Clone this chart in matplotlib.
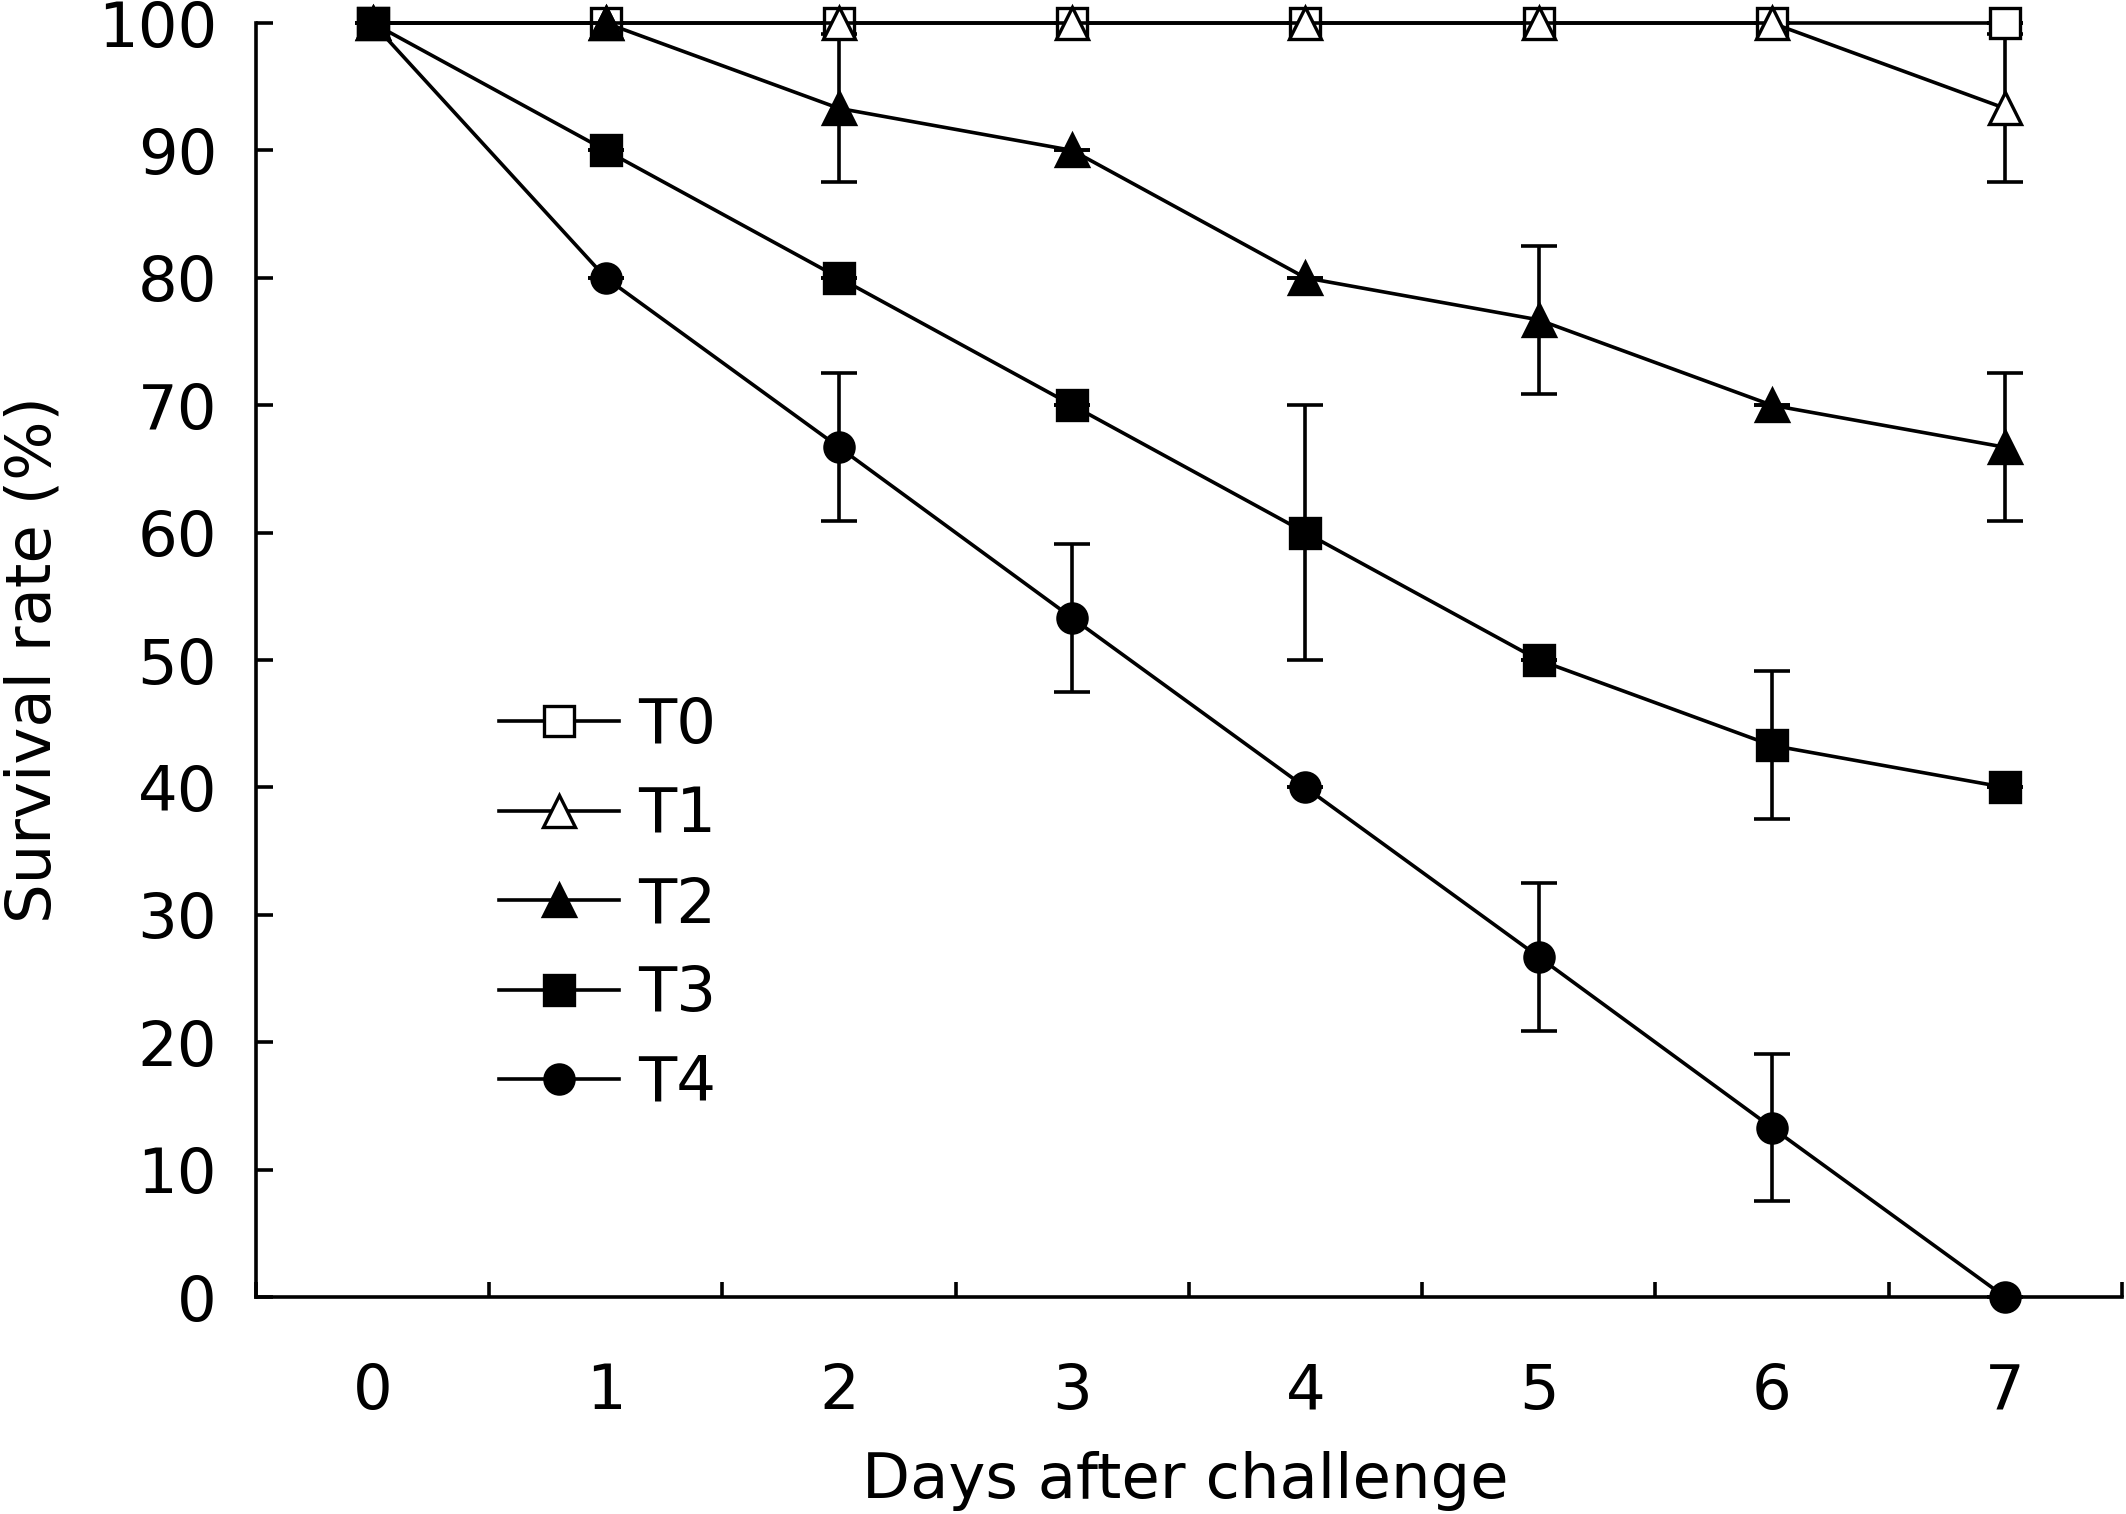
import matplotlib
matplotlib.use('Agg')
import matplotlib.pyplot as plt

# survival data
days = [0, 1, 2, 3, 4, 5, 6, 7]
groups = ['T0', 'T1', 'T2', 'T3', 'T4']

t0 = [100, 100, 100, 100, 100, 100, 100, 100]
t1 = [100, 100, 100, 100, 100, 100, 100, 93.3]
t2 = [100, 100, 93.3, 90, 80, 76.7, 70, 66.7]
t3 = [100, 90, 80, 70, 60, 50, 43.3, 40]
t4 = [100, 80, 66.7, 53.3, 40, 26.7, 13.3, 0]

t0_err = [0, 0, 0, 0, 0, 0, 0, 0]
t1_err = [0, 0, 0, 0, 0, 0, 0, 5.8]
t2_err = [0, 0, 5.8, 0, 0, 5.8, 0, 5.8]
t3_err = [0, 0, 0, 0, 10, 0, 5.8, 0]
t4_err = [0, 0, 5.8, 5.8, 0, 5.8, 5.8, 0]

values = [t0, t1, t2, t3, t4]
errors = [t0_err, t1_err, t2_err, t3_err, t4_err]
markers = ['s', '^', '^', 's', 'o']
faces = ['white', 'white', 'black', 'black', 'black']
sizes = [21, 23, 23, 21, 21]

plt.rcParams['font.family'] = ['DejaVu Sans']
plt.rcParams['font.size'] = 45

fig = plt.figure(figsize=(21.26, 15.14), dpi=100)
ax = fig.add_axes([0.1204, 0.1433, 0.8776, 0.8415])

lw = 2.6
for i in range(len(groups)):
    ax.errorbar(days, values[i], yerr=errors[i], fmt='none', ecolor='black',
                elinewidth=lw, capsize=13, capthick=lw, zorder=1.5, clip_on=False)
for i in range(len(groups)):
    ax.plot(days, values[i], color='black', linewidth=lw, marker=markers[i],
            markersize=sizes[i], markerfacecolor=faces[i], markeredgecolor='black',
            markeredgewidth=2.4, label=groups[i], zorder=2 + i * 0.1, clip_on=False)

ax.set_xlim(-0.5, 7.5)
ax.set_ylim(0, 100)
ax.set_yticks(range(0, 101, 10))
ax.set_xticks([x - 0.5 for x in range(9)])
ax.set_xticklabels([])
ax.set_xticks(days, minor=True)
ax.set_xticklabels([str(d) for d in days], minor=True)

ax.tick_params(axis='x', which='major', direction='in', length=11, width=lw)
ax.tick_params(axis='x', which='minor', length=0, pad=47)
ax.tick_params(axis='y', direction='in', length=12, width=lw, pad=28)

for side in ['top', 'right']:
    ax.spines[side].set_visible(False)
for side in ['left', 'bottom']:
    ax.spines[side].set_linewidth(lw)

ax.set_xlabel('Days after challenge')
ax.set_ylabel('Survival rate (%)')
ax.xaxis.set_label_coords(0.498, -0.121)
ax.yaxis.set_label_coords(-0.103, 0.5)

ax.legend(loc='upper left', bbox_to_anchor=(0.13, 0.4715), frameon=False,
          borderpad=0, borderaxespad=0, handlelength=1.93, handletextpad=0.3,
          labelspacing=0.47, numpoints=1)

fig.savefig('out.png', dpi=100)
